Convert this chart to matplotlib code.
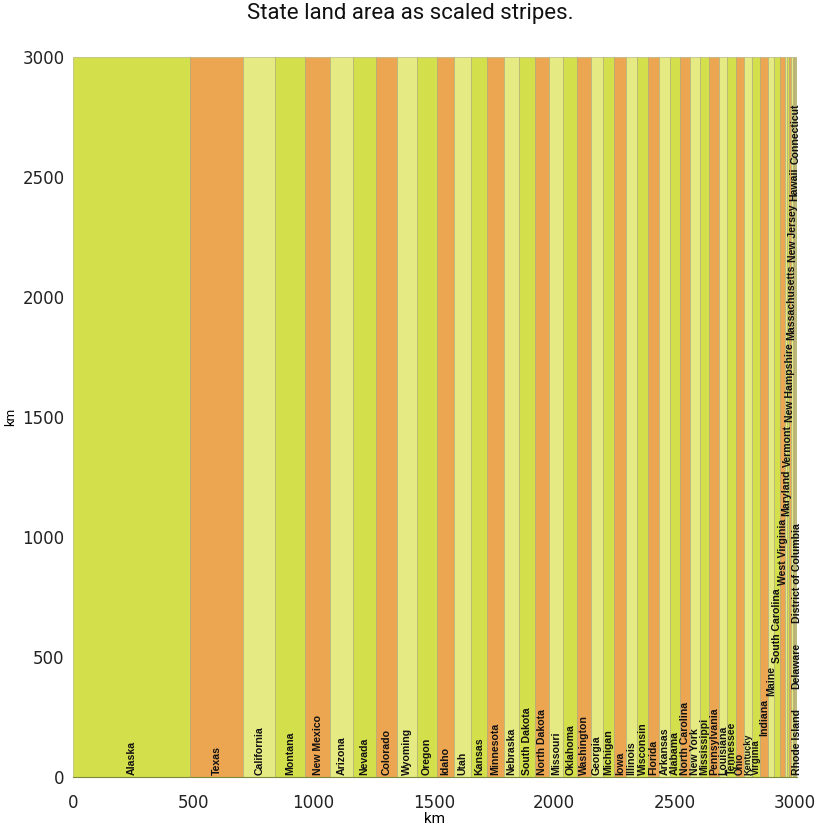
import matplotlib
matplotlib.use("Agg")
import matplotlib.pyplot as plt
import numpy as np

# state names, in order of land area
states = ["Alaska", "Texas", "California", "Montana", "New Mexico", "Arizona",
          "Nevada", "Colorado", "Wyoming", "Oregon", "Idaho", "Utah", "Kansas",
          "Minnesota", "Nebraska", "South Dakota", "North Dakota", "Missouri",
          "Oklahoma", "Washington", "Georgia", "Michigan", "Iowa", "Illinois",
          "Wisconsin", "Florida", "Arkansas", "Alabama", "North Carolina",
          "New York", "Mississippi", "Pennsylvania", "Louisiana", "Tennessee",
          "Ohio", "Kentucky", "Virginia", "Indiana", "Maine", "South Carolina",
          "West Virginia", "Maryland", "Vermont", "New Hampshire",
          "Massachusetts", "New Jersey", "Hawaii", "Connecticut", "Delaware",
          "Rhode Island", "District of Columbia"]

# stripe widths in km (stripe height is 3000 km)
widths = [486.0, 222.6, 132.7, 124.0, 103.4, 96.8, 93.5, 88.3, 82.7, 81.8,
          70.4, 70.0, 69.7, 67.9, 65.5, 64.6, 58.8, 58.6, 58.4, 56.6,
          49.0, 48.2, 47.6, 47.3, 46.1, 45.7, 44.3, 43.2, 41.4, 40.2,
          40.0, 38.1, 36.8, 35.1, 34.8, 33.7, 33.6, 30.5, 26.3, 25.6,
          20.5, 8.3, 7.9, 7.6, 6.6, 6.3, 5.5, 4.1, 1.7, 0.9, 0.05]

height = 3000
colors = ["#d3df4b", "#eca652", "#e6ea83"]

# labels that sit on top of the label before them (gap in pixels)
chains = [(["Virginia", "Indiana", "Maine", "South Carolina", "West Virginia",
            "Maryland", "Vermont", "New Hampshire", "Massachusetts",
            "New Jersey", "Hawaii", "Connecticut"], 3),
          (["Rhode Island", "Delaware", "District of Columbia"], 20)]
# squeezed labels get a slightly smaller font
small = {"Ohio": 7.0, "Kentucky": 6.6, "Virginia": 7.0}

plt.rcParams['font.family'] = ['Roboto', 'DejaVu Sans']

fig = plt.figure(figsize=(8.2, 8.27), dpi=100)
ax = fig.add_axes([73/820, 1-777/827, 724/820, 720/827])

lefts = np.concatenate([[0], np.cumsum(widths)[:-1]])
ax.bar(lefts, [height]*len(widths), width=widths, align='edge',
       color=[colors[i % 3] for i in range(len(widths))],
       edgecolor='#a9a77a', linewidth=0.4)

total = sum(widths)
ax.set_xlim(0, total)
ax.set_ylim(0, height)

texts = {}
for s, l, w in zip(states, lefts, widths):
    texts[s] = ax.text(l + w/2, 8, s, rotation=90, ha='center', va='bottom',
                       fontsize=small.get(s, 7.6), fontweight='bold',
                       color='#111111',
                       family=['Liberation Sans', 'DejaVu Sans'])

fig.canvas.draw()
r = fig.canvas.get_renderer()
inv = ax.transData.inverted()
for chain, gap in chains:
    for prev, cur in zip(chain[:-1], chain[1:]):
        bb = texts[prev].get_window_extent(r)
        top = inv.transform((0, bb.y1 + gap))[1]
        x = texts[cur].get_position()[0]
        texts[cur].set_position((x, top))
        fig.canvas.draw()

ax.set_xticks(range(0, 3001, 500))
ax.set_yticks(range(0, 3001, 500))
ax.tick_params(length=0, labelsize=12, colors='#222222')
ax.tick_params(axis='x', pad=12)
ax.tick_params(axis='y', pad=6)
for lab in ax.get_xticklabels() + ax.get_yticklabels():
    lab.set_family(['DejaVu Sans'])
for sp in ["top", "right", "left"]:
    ax.spines[sp].set_visible(False)
ax.spines["bottom"].set_color('#7d8a3a')
ax.spines["bottom"].set_linewidth(0.8)

ax.set_xlabel("km", fontsize=11, labelpad=0)
ax.set_ylabel("km", fontsize=9.5, labelpad=4)
fig.text(0.5, 1 - 13/827, "State land area as scaled stripes.", ha='center',
         va='center', fontsize=16, color='#111111')

fig.savefig("out.png", dpi=100, facecolor='white')
